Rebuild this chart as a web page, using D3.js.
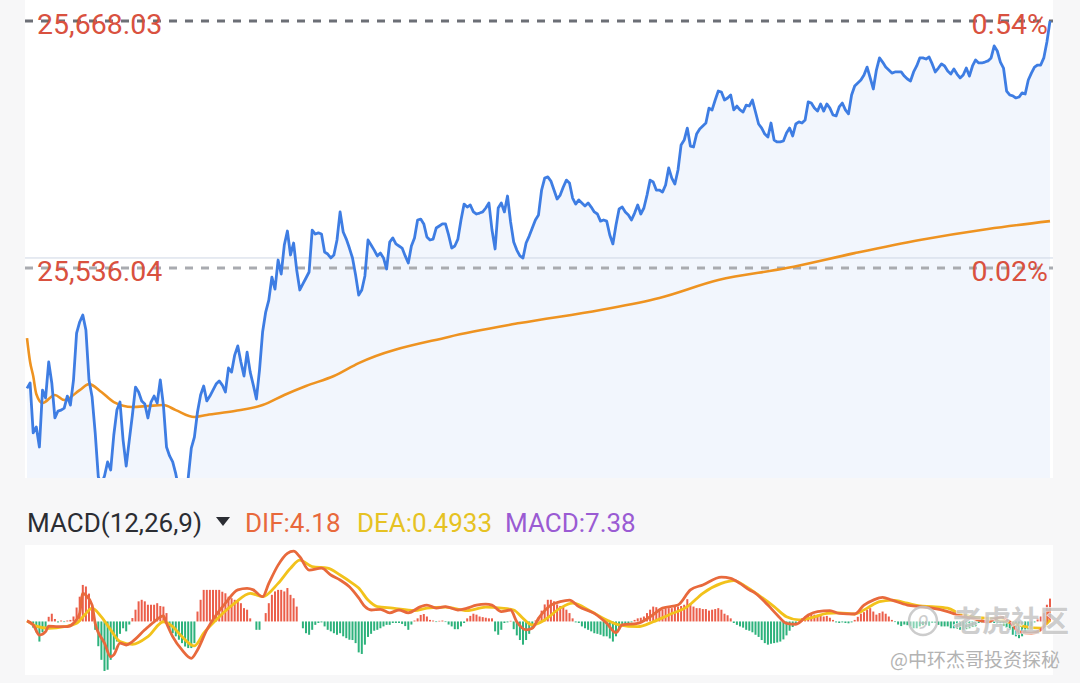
<!DOCTYPE html>
<html><head><meta charset="utf-8">
<script src="https://cdn.jsdelivr.net/npm/d3@7/dist/d3.min.js"></script>
<style>html,body{margin:0;padding:0;background:#f7f7f8;}svg{display:block;font-family:Roboto,"Noto Sans",sans-serif;}</style>
</head><body><svg id="c" width="1080" height="683"></svg>
<script>
// ---- data ----
const priceLevels = [25668.03, 25536.04];
const priceLabels = ["25,668.03", "25,536.04"];
const pctLabels = ["0.54%", "0.02%"];
const gridLevel = 25541.4;
const price = [25471.7,25474.6,25447.9,25451.1,25440.4,25470.8,25466.6,25485.8,25474.6,25455.9,25459.6,25460.1,25461.2,25467.6,25462.8,25476.2,25501.3,25507.2,25510.9,25502.9,25476.2,25467.1,25447.9,25424.4,25420.6,25424.9,25432.4,25428.1,25446.8,25460.1,25464.4,25444.1,25430.2,25444.1,25457.5,25472.4,
25469.8,25465.0,25463.4,25455.9,25464.4,25467.6,25463.9,25476.2,25462.8,25440.4,25435.6,25432.4,25426.0,25417.4,25414.7,25417.4,25423.8,25439.8,25445.7,25459.1,25468.2,25473.0,25465.0,25467.6,25470.8,25474.0,25475.7,25473.5,25469.8,25482.6,25480.4,25489.5,25494.4,25485.8,25478.3,25491.1,25480.4,25473.5,25466.0,25481.5,25501.8,25512.5,25518.9,25531.2,25524.8,25540.3,25532.8,25548.3,25555.8,25543.0,25549.4,25535.0,25524.3,25527.5,25530.7,25533.9,25556.3,25554.2,25554.8,25554.2,25544.6,25543.5,25541.4,25543.0,25551.0,25566.0,25555.3,25551.5,25546.7,25541.4,25532.3,25521.6,25524.3,25531.8,25551.0,25548.3,25545.6,25542.5,25544.0,25541.4,25535.5,25549.9,25552.1,25548.9,25547.8,25546.7,25542.5,25538.7,25547.8,25552.1,25561.7,25562.2,25559.6,25552.6,25551.0,25551.5,25557.4,25558.5,25559.6,25559.6,25553.7,25546.7,25547.8,25551.5,25561.7,25570.2,25568.6,25569.7,25566.0,25564.9,25565.4,25566.0,25568.1,25570.8,25556.3,25546.2,25568.1,25570.8,25566.0,25574.5,25560.6,25549.9,25545.6,25542.5,25541.4,25549.4,25553.1,25557.4,25561.7,25564.4,25577.7,25584.1,25584.7,25582.5,25577.7,25572.9,25575.0,25579.3,25583.0,25581.5,25573.4,25570.2,25572.4,25570.8,25569.2,25570.8,25568.6,25566.0,25564.9,25561.1,25561.7,25561.1,25553.7,25548.9,25559.0,25567.6,25568.6,25566.0,25564.4,25561.7,25565.4,25569.7,25564.9,25568.1,25575.0,25583.0,25582.0,25577.7,25577.7,25576.6,25580.4,25589.5,25584.1,25580.9,25588.4,25601.8,25604.4,25610.8,25601.2,25600.7,25607.6,25610.3,25611.9,25613.5,25621.5,25620.5,25625.8,25630.6,25630.1,25625.8,25626.9,25628.5,25620.5,25622.6,25620.5,25619.4,25623.1,25622.6,25625.8,25619.4,25613.0,25610.8,25607.6,25606.0,25613.5,25604.4,25603.4,25603.4,25603.9,25608.2,25610.8,25606.6,25613.0,25614.1,25613.5,25615.1,25624.8,25624.2,25621.5,25619.9,25623.7,25619.9,25623.7,25621.5,25617.8,25617.3,25622.1,25624.2,25620.5,25618.4,25628.5,25633.3,25634.9,25636.5,25639.2,25643.4,25637.6,25631.7,25641.8,25648.3,25646.1,25643.4,25641.8,25640.2,25640.8,25640.8,25640.8,25638.6,25637.0,25636.0,25640.8,25644.0,25648.3,25648.3,25647.7,25648.8,25645.1,25640.8,25642.9,25645.1,25644.0,25641.3,25639.7,25642.4,25639.7,25637.6,25639.2,25642.9,25638.6,25644.0,25647.2,25645.6,25645.6,25646.1,25646.7,25648.3,25654.7,25652.0,25646.1,25642.9,25630.6,25628.5,25628.0,25626.9,25627.4,25629.6,25629.0,25636.5,25640.2,25643.4,25644.5,25644.5,25648.3,25656.8,25668.0];
const avgMin = [0,1,2,3,5,9,12,17,20,24,28,34,39,44,48,54,58,67,76,83,90,99,107,136,159,185,204,223,245,267,288,310,330];
const avgVal = [25498.6,25485.8,25478.3,25468.7,25463.9,25468.2,25465.5,25470.8,25474.0,25469.8,25464.4,25461.8,25462.3,25462.8,25460.1,25456.4,25457.5,25459.6,25462.8,25468.2,25473.0,25478.3,25485.2,25499.2,25506.6,25513.6,25520.0,25529.6,25536.0,25544.0,25551.0,25556.9,25561.1];
const difMin = [0,2,4,6,7,10,13,15,17,18,19,21,22,25,27,28,30,32,34,38,41,44,45,47,50,53,55,58,61,64,68,71,73,76,78,81,84,86,88,91,95,98,101,104,107,109,111,114,117,120,123,127,129,132,135,139,142,145,148,150,153,156,158,161,163,165,169,172,175,178,183,187,190,192,197,201,205,210,214,218,224,227,230,233,235,239,242,245,248,252,255,259,262,267,270,273,276,279,284,288,292,297,301,305,310,314,317,320,324,327,329,330];
const difVal = [0.2,-1.1,-4.4,-3.3,-1.5,-1.7,-1.7,-0.6,2.6,9.1,8.5,5.3,-0.6,-7.0,-11.4,-10.8,-7.0,-7.6,-6.5,-2.7,-0.1,1.8,-0.6,-4.9,-9.2,-11.9,-9.2,-2.7,2.1,5.9,10.2,10.7,10.2,8.0,12.3,18.2,22.0,22.7,20.9,16.6,17.2,15.0,13.4,11.2,7.6,4.8,3.7,3.9,2.8,3.7,2.8,4.8,5.3,4.3,4.8,3.7,4.3,5.3,5.6,5.3,3.2,3.7,-0.1,-2.7,-2.2,1.0,5.3,6.4,6.9,4.8,2.6,-0.6,-3.6,-1.1,-0.6,1.5,4.3,5.3,10.2,11.8,14.3,13.9,12.3,10.2,9.1,5.3,2.1,-0.6,-0.9,2.1,3.2,3.5,2.6,2.4,5.3,6.9,7.8,6.9,5.3,4.8,4.3,3.2,1.8,1.0,-0.1,1.5,-0.1,-3.3,-3.8,-2.7,0.5,4.18];
const deaMin = [0,3,7,12,16,19,21,24,27,30,34,39,44,47,50,54,57,61,67,72,76,81,85,88,92,97,101,105,107,110,113,118,125,129,135,142,148,153,157,160,163,167,172,176,182,187,191,197,202,207,213,218,224,228,232,236,241,245,249,254,258,262,267,271,275,279,284,288,292,297,301,305,310,314,318,322,327,330];
const deaVal = [0.2,-1.5,-2.2,-1.7,-0.6,2.6,4.3,1.5,-2.7,-6.5,-7.4,-4.9,-0.1,-1.7,-4.9,-7.9,-3.8,0.5,5.9,9.1,8.0,12.3,17.2,19.8,17.7,17.2,15.0,12.3,10.8,6.9,4.8,4.3,3.5,4.3,4.6,3.5,4.6,4.3,3.7,1.0,-1.1,0.5,4.3,5.9,3.2,0.5,-1.1,-1.7,-0.1,2.1,4.8,9.1,12.3,13.2,11.2,8.5,4.8,1.5,0.5,1.5,2.6,2.8,2.4,4.3,6.4,6.9,5.9,5.0,4.8,4.3,2.4,1.5,1.0,0.5,-0.6,-1.7,-2.2,0.4933];
const hist = [0,-0.5,-2,-3.5,-6.5,-3.5,-2.5,1.5,2.5,0.8,
-0.3,0.3,-0.2,0.3,0.5,1.6,4.5,8,11.8,11.3,
9,5,-2.7,-8,-12.4,-16,-15.6,-12.4,-9.1,-6.5,
-4,-2.2,-3.2,-1,1.1,3.8,6.5,7,6.5,5.4,
5.4,5.4,5.9,5,4.8,2.7,-2.7,-3.8,-4.8,-5.9,
-7,-8.1,-8.6,-8.6,-7,3.2,7,10.2,10.2,10.2,
10.2,10.2,10.2,9.6,9.1,8,7.5,7,6.5,5.9,
4.3,3.8,1,0,-2.7,-2.7,0,2.7,5.9,8.6,
9.7,10.2,10.2,9.7,10.8,8.6,7.5,4.8,0,-2.2,
-3.8,-4.3,-2.7,-1.1,-0.5,-0.3,-1.6,-2.7,-3.2,-3.8,
-4.3,-3.8,-4.8,-5.4,-5.9,-6,-7,-10,-10.5,-7.5,
-5,-4,-3,-2.7,-2.2,-1.6,-1.1,-1.1,-0.5,-0.5,
-0.5,-0.8,-1.5,-2.7,-1,0.3,1,2.1,2.4,1.6,
0.5,0.3,-0.2,0.2,0.3,-0.2,-1,-1.6,-2.5,-2.5,
-1.6,-0.5,1,1.8,2.5,2.2,1.6,1.4,1.2,1,
1,-3.2,-4.3,-2.7,-0.5,-0.3,0.2,-2.5,-4.5,-6,
-7.5,-6,-4,-2,0.3,1.2,3.5,5.5,7,7,
6.5,5.5,5,4.8,3.8,2.7,1,-0.3,-0.5,-1.6,
-2.2,-2.7,-3.2,-3.8,-4,-4.3,-4.8,-4.8,-5.5,-6.5,
-4.8,-2.7,-0.8,-1.2,-0.8,-0.3,0.5,1,1.2,1.6,
2.7,3.8,4.8,4.6,3.8,3.8,4.3,4.3,4.3,4.8,
4.8,5,5.4,7.2,5.9,4.8,4.3,4.3,4,4,
3.5,3.8,4,4.3,3.8,2.5,2,1,-0.5,-1.1,
-1.6,-2,-2.7,-3,-3.5,-4.3,-5,-6,-7,-7.5,
-7.2,-7,-6.8,-6.5,-5.8,-4.5,-3,-1.8,-0.8,0.3,
1,1.6,2.2,2.7,2.2,2.2,1.8,1.6,1.8,1.2,
0.5,-0.3,-0.5,-0.3,-0.5,-0.6,-0.3,0.5,1.5,2.5,
3,3.8,4.3,3.2,2.2,2.7,3.2,2.5,1.6,0.5,
-0.2,-1,-1.5,-1,-1.2,-1.6,-2.2,-2.2,-1.6,-1.2,
-1,-1.4,-0.5,-0.5,-1.1,-1.6,-1.6,-1.6,-2.2,-2.2,
-2.4,-2.7,-2.7,-2.5,-2.2,-1.8,-1.6,-0.5,-0.3,0.3,
0.3,-0.3,-0.5,-0.8,-1,-1.5,-2,-2.7,-4.3,-4.8,
-5.4,-4.8,-3.8,-2.7,-1.5,-0.3,1,1.6,2.7,5.4,
7.38];
const legendName = "MACD(12,26,9)";
const legendItems = [
  {label: "DIF:4.18", color: "#e8693c"},
  {label: "DEA:0.4933", color: "#e6c223"},
  {label: "MACD:7.38", color: "#9a5bd3"}
];
const watermark1 = "老虎社区";
const watermark2 = "@中环杰哥投资探秘";

// ---- layout ----
const svg = d3.select("#c");
const L = 25, R = 1053;
const topP = {t: 0, b: 478};
const macdP = {t: 545, b: 675};

svg.append("rect").attr("x",0).attr("y",0).attr("width",1080).attr("height",683).attr("fill","#f7f7f8");
svg.append("rect").attr("x",L).attr("y",topP.t).attr("width",R-L).attr("height",topP.b-topP.t).attr("fill","#ffffff");
svg.append("rect").attr("x",L).attr("y",macdP.t).attr("width",R-L).attr("height",macdP.b-macdP.t).attr("fill","#ffffff");

const x = d3.scaleLinear().domain([0, 330]).range([27, 1050]);
const y = d3.scaleLinear().domain(priceLevels).range([21, 268]);

const defs = svg.append("defs");
defs.append("clipPath").attr("id","clipTop").append("rect")
  .attr("x",L).attr("y",topP.t).attr("width",R-L).attr("height",topP.b-topP.t);
defs.append("clipPath").attr("id","clipMacd").append("rect")
  .attr("x",L).attr("y",macdP.t).attr("width",R-L).attr("height",macdP.b-macdP.t);

const gTop = svg.append("g").attr("clip-path","url(#clipTop)");

gTop.append("path").datum(price)
  .attr("d", d3.area().x((d,i)=>x(i)).y0(topP.b).y1(d=>y(d)))
  .attr("fill","#f2f6fd");

gTop.append("line").attr("x1",L).attr("x2",R).attr("y1",y(gridLevel)).attr("y2",y(gridLevel))
  .attr("stroke","#cfd6e4").attr("stroke-width",1);

const dashColors = ["#6c6f76", "#a9abb0"];
priceLevels.forEach((p,k)=>{
  gTop.append("line").attr("x1",L).attr("x2",R).attr("y1",y(p)).attr("y2",y(p))
    .attr("stroke",dashColors[k]).attr("stroke-width",3).attr("stroke-dasharray","8,8");
});

gTop.append("path").datum(avgMin.map((m,i)=>[m,avgVal[i]]))
  .attr("d", d3.line().x(d=>x(d[0])).y(d=>y(d[1])).curve(d3.curveMonotoneX))
  .attr("fill","none").attr("stroke","#ee9321").attr("stroke-width",2.6);

gTop.append("path").datum(price)
  .attr("d", d3.line().x((d,i)=>x(i)).y(d=>y(d)))
  .attr("fill","none").attr("stroke","#3e7de3").attr("stroke-width",2.8).attr("stroke-linejoin","round");

priceLevels.forEach((p,k)=>{
  svg.append("text").attr("x",37).attr("y",y(p)+13).text(priceLabels[k])
    .attr("fill","#d9513f").attr("font-size",28.5);
  svg.append("text").attr("x",1048).attr("y",y(p)+13).attr("text-anchor","end").text(pctLabels[k])
    .attr("fill","#d9513f").attr("font-size",28.5);
});

// ---- MACD ----
const ym = d3.scaleLinear().domain([-17.3, 24.7]).range([macdP.b, macdP.t]);
const gM = svg.append("g").attr("clip-path","url(#clipMacd)");
gM.selectAll("rect.bar").data(hist).join("rect")
  .attr("x",(d,i)=>x(i)-1)
  .attr("width",2)
  .attr("y",d=>Math.min(ym(d), ym(0)))
  .attr("height",d=>Math.abs(ym(d)-ym(0)))
  .attr("fill",d=>d>=0 ? "#eb5e4a" : "#2db27c");

gM.append("path").datum(deaMin.map((m,i)=>[m,deaVal[i]]))
  .attr("d", d3.line().x(d=>x(d[0])).y(d=>ym(d[1])).curve(d3.curveMonotoneX))
  .attr("fill","none").attr("stroke","#f2c21b").attr("stroke-width",2.8);
gM.append("path").datum(difMin.map((m,i)=>[m,difVal[i]]))
  .attr("d", d3.line().x(d=>x(d[0])).y(d=>ym(d[1])).curve(d3.curveMonotoneX))
  .attr("fill","none").attr("stroke","#e8693c").attr("stroke-width",2.8);

const lg = svg.append("g").attr("font-size",26);
lg.append("text").attr("x",27).attr("y",532).text(legendName).attr("fill","#2b2d33");
lg.append("path").attr("d","M216,517 L230,517 L223,526 Z").attr("fill","#2b2d33");
const legX = [245, 357, 505];
legendItems.forEach((it,k)=>{
  lg.append("text").attr("x",legX[k]).attr("y",532).text(it.label).attr("fill",it.color);
});

// watermark
const wm = svg.append("g").attr("opacity",0.85);
wm.append("circle").attr("cx",923).attr("cy",621).attr("r",14).attr("fill","rgba(255,255,255,0.5)").attr("stroke","#c4c4c4").attr("stroke-width",2.5);
wm.append("text").attr("x",923).attr("y",629).attr("text-anchor","middle").attr("font-size",20).attr("font-style","italic").attr("fill","#c4c4c4").text("9");
wm.append("text").attr("x",953).attr("y",632).attr("font-size",29).attr("font-weight","bold")
  .attr("font-family","'Noto Sans CJK SC'").attr("fill","#c6c6c6").attr("stroke","#ffffff").attr("stroke-width",1.2).attr("paint-order","stroke").text(watermark1);
svg.append("text").attr("x",890).attr("y",667).attr("font-size",19)
  .attr("font-family","'Noto Sans CJK SC'").attr("fill","#b3b3b3").text(watermark2);
</script></body></html>
